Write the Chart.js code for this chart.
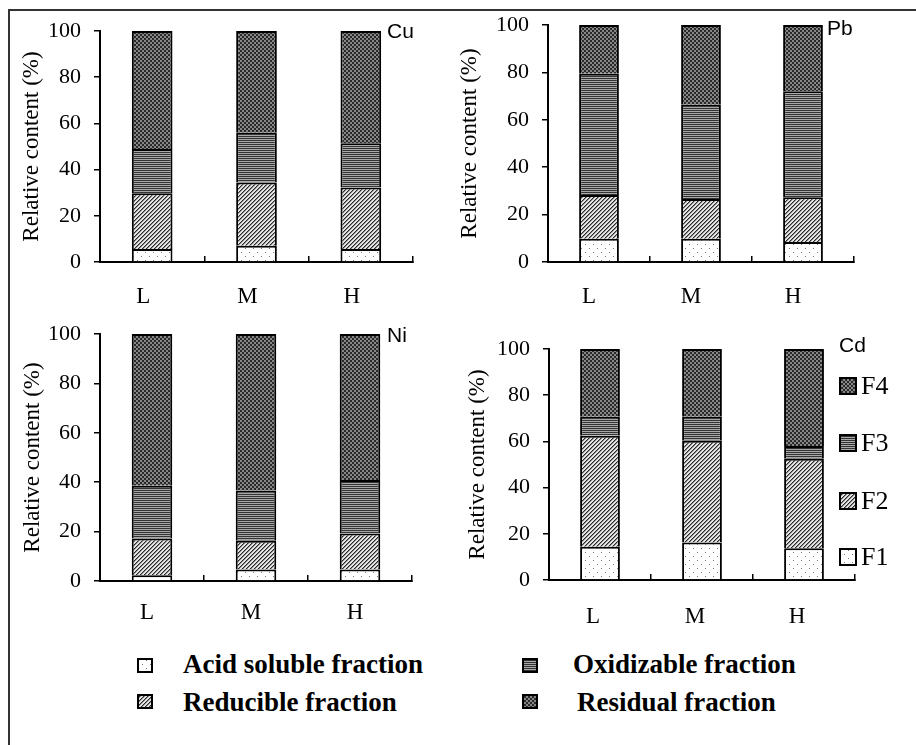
<!DOCTYPE html>
<html>
<head>
<meta charset="utf-8">
<script src="https://cdn.jsdelivr.net/npm/chart.js@4.4.0/dist/chart.umd.min.js"></script>
<style>
  html, body { margin: 0; padding: 0; background: #fff; width: 916px; height: 745px; overflow: hidden; position: relative; }
  #frame { position: absolute; left: 8px; top: 9px; width: 1000px; height: 1000px; border-left: 2px solid #333; border-top: 2px solid #333; }
  canvas { position: absolute; }
  .metal { position: absolute; font-family: 'Liberation Sans', Arial, sans-serif; font-size: 21px; line-height: 1; color: #000; }
  .key { position: absolute; font-family: 'Liberation Serif', 'Times New Roman', serif; font-size: 26px; line-height: 1; color: #000; }
  .frac { position: absolute; font-family: 'Liberation Serif', 'Times New Roman', serif; font-weight: bold; font-size: 27px; line-height: 1; color: #000; white-space: nowrap; }
</style>
</head>
<body>
<div id="frame"></div>
<script>
// categories and labels
const categories = ['L', 'M', 'H'];
const yTicks = [0, 20, 40, 60, 80, 100];
const keyLabels = ['F1', 'F2', 'F3', 'F4'];
const fractionNames = ['Acid soluble fraction', 'Reducible fraction', 'Oxidizable fraction', 'Residual fraction'];
const metals = ['Cu', 'Pb', 'Ni', 'Cd'];

// relative content (%): F1 acid, F2 reducible, F3 oxidizable, F4 residual
const cuAcid = [5.6, 7.0, 5.6];
const cuReducible = [24.2, 27.4, 26.6];
const cuOxidizable = [19.1, 21.6, 19.2];
const cuResidual = [51.1, 44.0, 48.6];

const pbAcid = [9.8, 9.8, 8.4];
const pbReducible = [18.5, 16.8, 18.9];
const pbOxidizable = [51.1, 39.8, 44.7];
const pbResidual = [20.6, 33.6, 28.0];

const niAcid = [2.3, 4.7, 4.7];
const niReducible = [14.9, 11.6, 14.5];
const niOxidizable = [21.4, 20.3, 21.7];
const niResidual = [61.4, 63.4, 59.1];

const cdAcid = [14.4, 16.2, 13.7];
const cdReducible = [48.1, 44.1, 38.8];
const cdOxidizable = [8.2, 10.4, 5.5];
const cdResidual = [29.3, 29.3, 42.0];

// small pixel tiles for the fill patterns
function tile(w, h, paint) {
    const c = document.createElement('canvas');
    c.width = w; c.height = h;
    const g = c.getContext('2d');
    for (let y = 0; y < h; y++) {
        for (let x = 0; x < w; x++) {
            g.fillStyle = paint(x, y);
            g.fillRect(x, y, 1, 1);
        }
    }
    return c;
}

const tiles = [
    tile(8, 8, (x, y) => (x === 1 && y === 2) || (x === 5 && y === 6) ? '#7a7a7a' : '#ffffff'),
    tile(4, 4, (x, y) => { const k = (x + y) % 4; return k === 0 ? '#2a2a2a' : k === 1 ? '#8a8a8a' : '#e4e4e4'; }),
    tile(1, 2, (x, y) => y === 0 ? '#333333' : '#a8a8a8'),
    tile(4, 4, (x, y) => ((x >> 1) + (y >> 1)) % 2 === 0 ? '#2a2a2a' : '#868686')
];
const scratch = document.createElement('canvas').getContext('2d');
const patterns = tiles.map(t => scratch.createPattern(t, 'repeat'));

// panel geometry (page pixels)
const panels = [
    { x: 0, y: 10, w: 456, h: 300, left: 100, right: 413, top: 31, bottom: 262, titleX: 32, labelOff: 35, labelShift: -9 },
    { x: 456, y: 10, w: 460, h: 300, left: 548, right: 854, top: 25, bottom: 262, titleX: 469, labelOff: 35, labelShift: -10 },
    { x: 0, y: 318, w: 456, h: 310, left: 100, right: 412, top: 334, bottom: 581, titleX: 33, labelOff: 32, labelShift: -5 },
    { x: 456, y: 318, w: 460, h: 310, left: 549, right: 855, top: 349, bottom: 580, titleX: 478, labelOff: 37, labelShift: -7 }
];
const panelData = [
    [cuAcid, cuReducible, cuOxidizable, cuResidual],
    [pbAcid, pbReducible, pbOxidizable, pbResidual],
    [niAcid, niReducible, niOxidizable, niResidual],
    [cdAcid, cdReducible, cdOxidizable, cdResidual]
];

const serif = "'Liberation Serif', 'Times New Roman', serif";

function buildChart(p, series) {
    const cv = document.createElement('canvas');
    cv.width = p.w; cv.height = p.h;
    cv.style.left = p.x + 'px';
    cv.style.top = p.y + 'px';
    document.body.appendChild(cv);

    new Chart(cv, {
        type: 'bar',
        data: {
            labels: categories,
            datasets: series.map((v, i) => ({
                label: keyLabels[i],
                data: v,
                backgroundColor: patterns[i],
                borderColor: '#000',
                borderWidth: 2,
                barPercentage: 0.39,
                categoryPercentage: 1
            }))
        },
        options: {
            responsive: false,
            animation: false,
            devicePixelRatio: 1,
            layout: { padding: { left: 0, top: p.top - p.y, right: p.x + p.w - p.right, bottom: 0 } },
            plugins: { legend: { display: false }, tooltip: { enabled: false } },
            scales: {
                x: {
                    stacked: true,
                    grid: { drawOnChartArea: false, color: '#000', lineWidth: 1.5, tickLength: -6, offset: true },
                    border: { color: '#000', width: 2 },
                    ticks: {
                        color: '#000',
                        font: { family: serif, size: 23 },
                        padding: p.labelOff + 6 - 13.8,
                        labelOffset: p.labelShift
                    },
                    afterFit: s => { s.height = p.y + p.h - p.bottom; s.paddingLeft = 0; s.paddingRight = 0; }
                },
                y: {
                    stacked: true,
                    min: 0,
                    max: 100,
                    grid: { drawOnChartArea: false, color: '#000', lineWidth: 1.5, tickLength: 6 },
                    border: { color: '#000', width: 2 },
                    ticks: { color: '#000', font: { family: serif, size: 22 }, padding: 13 },
                    afterBuildTicks: s => { s.ticks = yTicks.map(v => ({ value: v })); },
                    title: {
                        display: true,
                        text: 'Relative content (%)',
                        color: '#000',
                        font: { family: serif, size: 23 },
                        padding: { top: Math.max(0, p.titleX - p.x - 13.8), bottom: 0 }
                    },
                    afterFit: s => { s.width = p.left - p.x; s.paddingTop = 0; s.paddingBottom = 0; }
                }
            }
        }
    });
}

panels.forEach((p, i) => buildChart(p, panelData[i]));

// metal names
const metalPos = [[387, 20], [827, 17], [387, 324], [839, 334]];
metals.forEach((m, i) => {
    const d = document.createElement('div');
    d.className = 'metal';
    d.textContent = m;
    d.style.left = metalPos[i][0] + 'px';
    d.style.top = metalPos[i][1] + 'px';
    document.body.appendChild(d);
});

function swatch(x, y, w, h, idx) {
    const c = document.createElement('canvas');
    c.width = w; c.height = h;
    c.style.left = x + 'px';
    c.style.top = y + 'px';
    const g = c.getContext('2d');
    g.fillStyle = '#000';
    g.fillRect(0, 0, w, h);
    g.fillStyle = g.createPattern(tiles[idx], 'repeat');
    g.fillRect(2, 2, w - 4, h - 4);
    document.body.appendChild(c);
}

function text(cls, str, x, y) {
    const d = document.createElement('div');
    d.className = cls;
    d.textContent = str;
    d.style.left = x + 'px';
    d.style.top = y + 'px';
    document.body.appendChild(d);
}

// F1-F4 key in the Cd panel (F4 on top)
const keyTops = [548, 492, 434, 377];
keyLabels.forEach((k, i) => {
    swatch(839, keyTops[i], 18, 18, i);
    text('key', k, 861, keyTops[i] - 4);
});

// fraction legend at the bottom
const fracPos = [
    { bx: 137, by: 658, tx: 183, ty: 651 },
    { bx: 137, by: 694, tx: 183, ty: 689 },
    { bx: 522, by: 658, tx: 573, ty: 651 },
    { bx: 522, by: 694, tx: 577, ty: 689 }
];
fractionNames.forEach((n, i) => {
    const f = fracPos[i];
    swatch(f.bx, f.by, 16, 15, i);
    text('frac', n, f.tx, f.ty);
});
</script>
</body>
</html>
